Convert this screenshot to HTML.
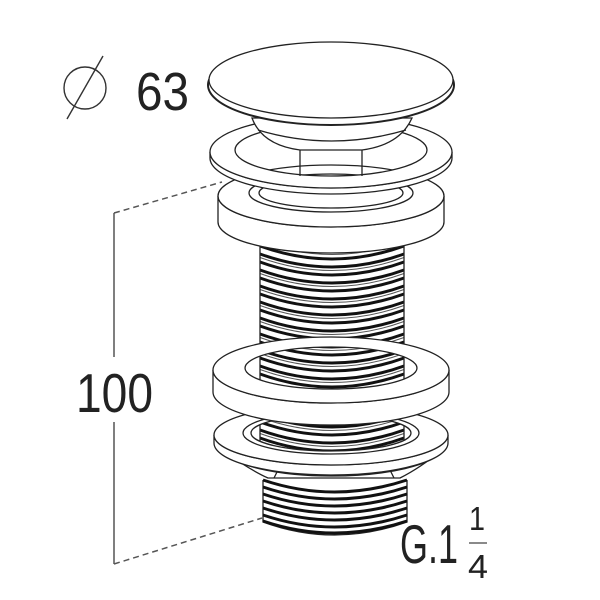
<!DOCTYPE html>
<html><head><meta charset="utf-8"><style>
html,body{margin:0;padding:0;background:#fff}
svg{display:block}
text{font-family:"Liberation Sans",sans-serif;fill:#222}
</style></head><body>
<svg width="600" height="600" viewBox="0 0 600 600" xmlns="http://www.w3.org/2000/svg">
<defs>
<path id="th" d="M260,0 Q332,26 404,0" fill="none" stroke="#111" stroke-width="3"/>
<path id="th2" d="M260,3.5 Q332,29.5 404,3.5" fill="none" stroke="#555" stroke-width="1"/>
<path id="lt" d="M263,0 Q334,24 407,0" fill="none" stroke="#111" stroke-width="3"/>
</defs>
<g stroke="#222" fill="#fff" stroke-width="1.3">
<!-- lower thread -->
<rect x="263" y="478" width="144" height="45" stroke="none"/>
<path d="M263,480 L263,522 Q334,548 407,522 L407,480" />
<g>
<use href="#lt" y="480"/><use href="#lt" y="487"/><use href="#lt" y="494"/><use href="#lt" y="501"/><use href="#lt" y="508"/><use href="#lt" y="515"/><use href="#lt" y="521"/>
</g>
<!-- main threaded body -->
<rect x="260" y="230" width="144" height="240" stroke="none"/>
<g>
<use href="#th" y="238"/><use href="#th" y="246"/><use href="#th" y="254"/><use href="#th" y="262"/><use href="#th" y="270"/><use href="#th" y="278"/><use href="#th" y="286"/><use href="#th" y="294"/><use href="#th" y="302"/><use href="#th" y="310"/><use href="#th" y="318"/><use href="#th" y="326"/><use href="#th" y="334"/><use href="#th" y="342"/><use href="#th" y="350"/><use href="#th" y="358"/><use href="#th" y="366"/><use href="#th" y="374"/><use href="#th" y="382"/><use href="#th" y="390"/><use href="#th" y="398"/><use href="#th" y="406"/><use href="#th" y="414"/><use href="#th" y="422"/><use href="#th" y="430"/><use href="#th" y="438"/>
<use href="#th2" y="238"/><use href="#th2" y="254"/><use href="#th2" y="270"/><use href="#th2" y="286"/><use href="#th2" y="302"/><use href="#th2" y="318"/><use href="#th2" y="334"/><use href="#th2" y="350"/><use href="#th2" y="366"/><use href="#th2" y="382"/><use href="#th2" y="398"/><use href="#th2" y="414"/><use href="#th2" y="430"/>
</g>
<line x1="260" y1="232" x2="260" y2="460"/><line x1="404" y1="232" x2="404" y2="460"/>
<!-- lower flange -->
<path d="M222,450 Q250,470 268,478 L400,478 Q420,468 442,450 A111,30 0 0 1 222,450 Z"/>
<path d="M274,478 L282,462 M386,462 L394,478" fill="none"/>
<path d="M214,435 A117,30 0 0 0 448,435 L448,443 A117,32 0 0 1 214,443 Z"/>
<path fill-rule="evenodd" d="M214,435 A117,30 0 1 0 448,435 A117,30 0 1 0 214,435 Z M251,433 A80,18 0 1 1 411,433 A80,18 0 1 1 251,433 Z"/>
<ellipse cx="331" cy="433" rx="88" ry="21" fill="none"/>
<!-- nut ring -->
<path d="M213,370 A118,33 0 0 0 449,370 L449,392 A118,33 0 0 1 213,392 Z"/>
<path fill-rule="evenodd" d="M213,370 A118,33 0 1 0 449,370 A118,33 0 1 0 213,370 Z M245,368 A86,21 0 1 1 417,368 A86,21 0 1 1 245,368 Z"/>
<!-- washer ring -->
<path d="M218,196 A113,31 0 0 0 444,196 L444,222 A113,31 0 0 1 218,222 Z"/>
<path fill-rule="evenodd" d="M218,196 A113,31 0 1 0 444,196 A113,31 0 1 0 218,196 Z M249,193 A82,19 0 1 1 413,193 A82,19 0 1 1 249,193 Z"/>
<ellipse cx="331" cy="193" rx="72" ry="15" fill="none"/>
<!-- upper flange -->
<path d="M210,152 A121,36 0 0 0 452,152 L452,158 A121,36 0 0 1 210,158 Z"/>
<path fill-rule="evenodd" d="M210,152 A121,36 0 1 0 452,152 A121,36 0 1 0 210,152 Z M235,150 A96,26 0 1 1 427,150 A96,26 0 1 1 235,150 Z"/>
<path d="M300,150 L300,176 M362,150 L362,176" fill="none"/>
<!-- cone under cap -->
<path d="M252,118 Q262,145 300,150 L362,150 Q400,145 412,118 Z"/>
<path d="M258,130 Q331,152 406,130" fill="none"/>
<!-- cap -->
<ellipse cx="331" cy="85" rx="123" ry="40" stroke-width="2"/>
<ellipse cx="331" cy="80" rx="122" ry="38"/>
</g>
<!-- dimension lines -->
<g stroke="#555" fill="none" stroke-width="1.5">
<path d="M114,213 L222,182" stroke-dasharray="6,4"/>
<path d="M114,564 L262,518" stroke-dasharray="6,4"/>
<path d="M114,213 L114,357 M114,422 L114,564"/>
</g>
<!-- diameter symbol -->
<circle cx="85" cy="88" r="21" fill="none" stroke="#333" stroke-width="1.4"/>
<line x1="67" y1="119" x2="103" y2="56" stroke="#333" stroke-width="1.4"/>
<text x="136" y="110" font-size="54" textLength="53" lengthAdjust="spacingAndGlyphs">63</text>
<text x="76" y="412" font-size="55" textLength="77" lengthAdjust="spacingAndGlyphs">100</text>
<text x="400" y="563" font-size="55" textLength="58" lengthAdjust="spacingAndGlyphs">G.1</text>
<text x="469" y="530" font-size="33" textLength="16" lengthAdjust="spacingAndGlyphs">1</text>
<line x1="469" y1="543" x2="487" y2="543" stroke="#444" stroke-width="1.2"/>
<text x="468" y="578" font-size="33" textLength="20" lengthAdjust="spacingAndGlyphs">4</text>
</svg>
</body></html>
